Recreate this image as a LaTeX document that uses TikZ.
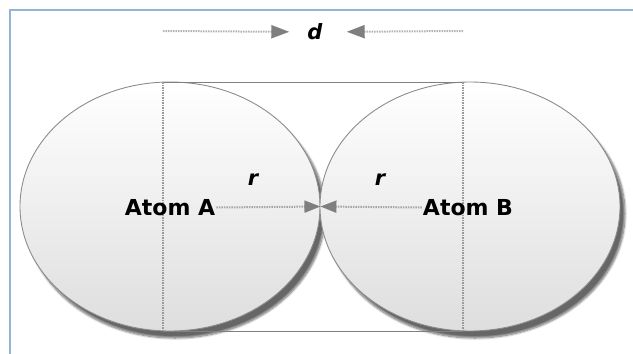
\documentclass[tikz,border=0pt]{standalone}
\usepackage{fontspec}
\setmainfont{DejaVu Sans}
\usepackage{xcolor}
\usetikzlibrary{arrows.meta,shapes.geometric,shadows.blur}
\definecolor{framebl}{HTML}{95B3D7}
\definecolor{tipgray}{HTML}{7F7F7F}

\begin{document}
\begin{tikzpicture}[x=1pt,y=-1pt,
    atom/.style={ellipse, draw=black!45, line width=0.9pt,
        top color=white, bottom color=black!13,
        minimum width=300pt, minimum height=249pt, inner sep=0pt,
        blur shadow={shadow xshift=5pt, shadow yshift=-7pt,
            shadow blur steps=8, shadow opacity=60}},
    lbl/.style={inner sep=1pt, font=\fontsize{22}{26}\selectfont\bfseries},
    sym/.style={inner sep=1pt, font=\fontsize{21}{25}\selectfont\bfseries\itshape},
    guide/.style={draw=black!40, line width=1.2pt, dash pattern=on 1.5pt off 1pt},
    edge/.style={draw=black!50, line width=1pt},
    rarrow/.style={draw=black!35, line width=2pt, dash pattern=on 1.5pt off 1pt,
        -{Triangle[length=16pt,width=12pt,color=tipgray]}},
    darrow/.style={draw=black!30, line width=2pt, dash pattern=on 1.5pt off 1pt,
        -{Triangle[length=18pt,width=13pt,color=tipgray]}}]
    \useasboundingbox (0,0) rectangle (633,354);

    % Frame
    \draw[framebl, line width=2pt] (10,354) -- (10,10) -- (633,10);

    % Atoms
    \node[atom] (atomA) at (170,206.5) {};
    \node[atom] (atomB) at (470,206.5) {};
    \coordinate (touch) at (atomA.east);

    % Distance box
    \coordinate (topA) at (163,82);
    \coordinate (botA) at (163,331);
    \coordinate (topB) at (463,82);
    \coordinate (botB) at (463,331);
    \draw[edge] (topA) -- (topB);
    \draw[edge] (botA) -- (botB);
    \draw[guide] (topA) -- (botA);
    \draw[guide] (topB) -- (botB);

    % Labels
    \node[lbl] (labA) at (170,207.5) {Atom A};
    \node[lbl] (labB) at (468,207.5) {Atom B};
    \node[sym] (rA) at (253,180) {r};
    \node[sym] (rB) at (380,180) {r};
    \node[sym] (dlab) at (315,32) {d};

    % Radii
    \draw[rarrow] (labA.east) -- (touch);
    \draw[rarrow] (labB.west) -- (touch);

    % Distance d
    \coordinate (dA) at (163,31);
    \coordinate (dB) at (463,31);
    \draw[darrow, shorten >=17pt] (dA) -- (dlab);
    \draw[darrow, shorten >=23pt] (dB) -- (dlab);
\end{tikzpicture}
\end{document}
